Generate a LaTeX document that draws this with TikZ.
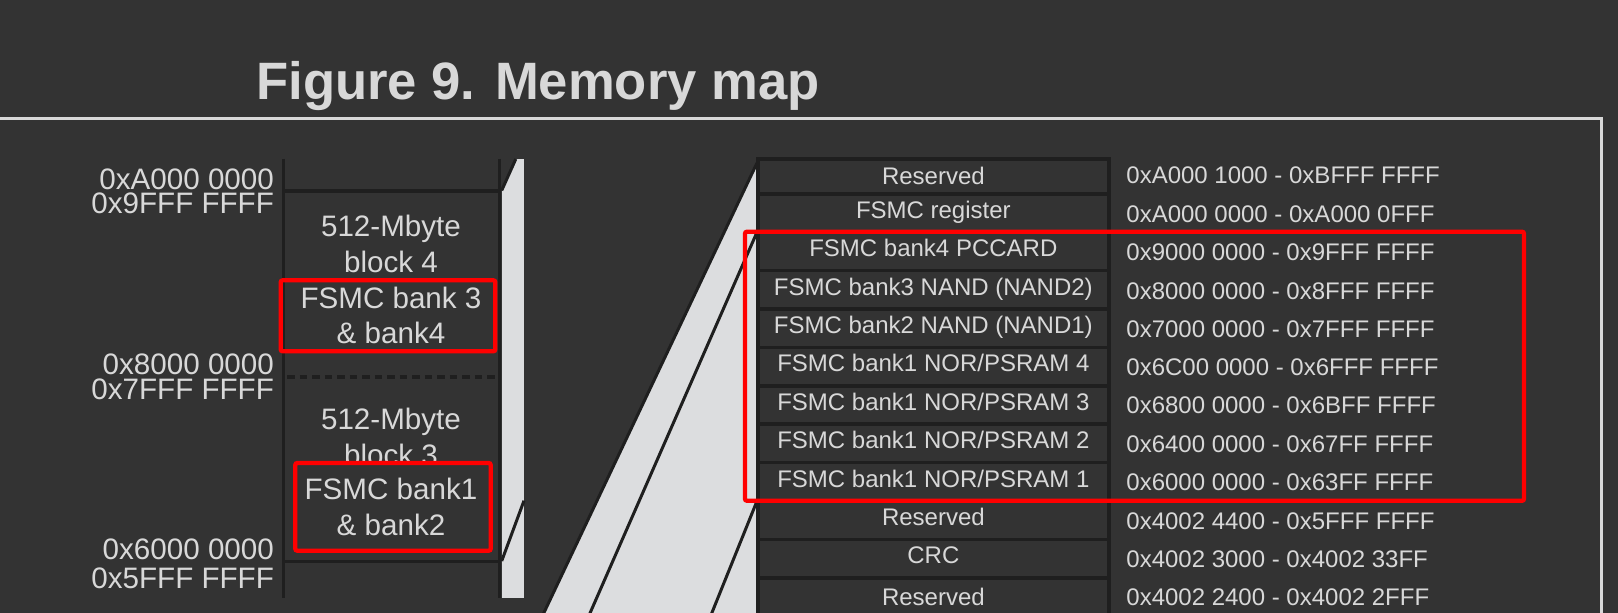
\documentclass[tikz,border=0pt]{standalone}
\usepackage{fontspec}
\setmainfont{Liberation Sans}
\definecolor{bg}{HTML}{333333}
\definecolor{fg}{HTML}{D8D8D8}
\definecolor{lite}{HTML}{DCDDDF}
\definecolor{ink}{HTML}{1F1F1F}
\definecolor{framecol}{HTML}{D8D8D8}
\definecolor{hl}{HTML}{FF0000}
\begin{document}
\begin{tikzpicture}[x=0.5pt,y=-0.5pt,
  cell/.style={draw=ink, line width=1.85pt, fill=bg, text=fg,
    font=\fontsize{12}{14}\selectfont, minimum width=175.35pt,
    minimum height=19.2pt, inner sep=0pt, outer sep=0pt,
    text height=8.6pt, text depth=3.3pt, anchor=north},
  addr/.style={anchor=base west, inner sep=0pt, text=fg, font=\fontsize{12}{14}\selectfont},
  coltext/.style={anchor=base, inner sep=0pt, text=fg, font=\fontsize{14.8}{17}\selectfont},
  lbl/.style={anchor=base east, inner sep=0pt, text=fg, font=\fontsize{14.8}{17}\selectfont},
  titlestyle/.style={anchor=base west, inner sep=0pt, text=fg, font=\fontsize{26.3}{30}\selectfont\bfseries},
  redbox/.style={draw=hl, line width=2.15pt, rounded corners=1pt, inner sep=0pt, outer sep=0pt},
  inkline/.style={draw=ink, line width=1.65pt},
  frameline/.style={draw=framecol, line width=1.35pt}
]
\useasboundingbox[fill=bg] (0,0) rectangle (1618,613);

% title and frame
\node[titlestyle] (title) at (256,99.3) {Figure 9. Memory map};
\draw[frameline] (-5,118.3) -- (1601.7,118.3) -- (1601.7,620);

% funnel
\coordinate (fa1) at (757,163);
\coordinate (fa2) at (540.5,620);
\coordinate (fb1) at (757,232.2);
\coordinate (fb2) at (587,620);
\coordinate (fc1) at (757,501);
\coordinate (fc2) at (709,620);
\fill[lite] (fa1) -- (fa2) -- (758,620) -- (758,163) -- cycle;
\draw[inkline, line width=1.5pt] (fa1) -- (fa2);
\draw[inkline, line width=1.5pt] (fb1) -- (fb2);
\draw[inkline, line width=1.5pt] (fc1) -- (fc2);

% left strip
\fill[lite] (501.7,159) rectangle (524,598.3);
\fill[bg] (501.7,159) -- (515.8,159) -- (501.7,190.5) -- cycle;
\coordinate (sa1) at (501.7,190.5);
\coordinate (sa2) at (515.8,159);
\coordinate (sb1) at (501.7,561);
\coordinate (sb2) at (524,500.7);
\draw[inkline, line width=1.5pt] (sa1) -- (sa2);
\draw[inkline, line width=1.5pt] (sb1) -- (sb2);

% left column
\draw[inkline] (283.3,159) -- (283.3,598.3);
\draw[inkline] (499.8,159) -- (499.8,598.3);
\draw[inkline] (283.3,191) -- (499.8,191);
\draw[inkline, dash pattern=on 3.75pt off 2.5pt, dash phase=-2pt] (283.3,377) -- (499.8,377);
\draw[inkline] (283.3,561.7) -- (499.8,561.7);

% left labels
\node[lbl] (l1) at (274.3,189.3) {0xA000 0000};
\node[lbl] (l2) at (274.3,213.3) {0x9FFF FFFF};
\node[lbl] (l3) at (274.3,374.8) {0x8000 0000};
\node[lbl] (l4) at (274.3,399.3) {0x7FFF FFFF};
\node[lbl] (l5) at (274.3,560) {0x6000 0000};
\node[lbl] (l6) at (274.3,589) {0x5FFF FFFF};

% block 4
\node[coltext] (b4a) at (391,236.7) {512-Mbyte};
\node[coltext] (b4b) at (391,272.7) {block 4};
\node[coltext] (b4c) at (391,308.3) {FSMC bank 3};
\node[coltext] (b4d) at (391,344) {\& bank4};
\node[redbox, minimum width=107.3pt, minimum height=35.5pt] (rb1) at (388,315.8) {};

% block 3
\node[coltext] (b3a) at (391,429.3) {512-Mbyte};
\node[coltext] (b3b) at (391,465.3) {block 3};
\node[redbox, fill=bg, minimum width=97.7pt, minimum height=43.85pt] (rb2) at (393,506.85) {};
\node[coltext] (b3c) at (391,500) {FSMC bank1};
\node[coltext] (b3d) at (391,536) {\& bank2};

% table
\node[cell, minimum height=17.35pt, text depth=1.2pt] (r1) at (933.35,159.3) {Reserved};
\node[cell] (r2) at (933.35,194) {FSMC register};
\node[cell] (r3) at (933.35,232.2) {FSMC bank4 PCCARD};
\node[cell] (r4) at (933.35,270.6) {FSMC bank3 NAND (NAND2)};
\node[cell] (r5) at (933.35,309) {FSMC bank2 NAND (NAND1)};
\node[cell] (r6) at (933.35,347.4) {FSMC bank1 NOR/PSRAM 4};
\node[cell] (r7) at (933.35,385.8) {FSMC bank1 NOR/PSRAM 3};
\node[cell] (r8) at (933.35,424.2) {FSMC bank1 NOR/PSRAM 2};
\node[cell] (r9) at (933.35,462.6) {FSMC bank1 NOR/PSRAM 1};
\node[cell] (r10) at (933.35,501) {Reserved};
\node[cell] (r11) at (933.35,539.4) {CRC};
\node[cell, minimum height=22.5pt] (r12) at (933.35,577.8) {Reserved};

% addresses
\node[addr] (a1) at (1126,184) {0xA000 1000 - 0xBFFF FFFF};
\node[addr] (a2) at (1126,222.7) {0xA000 0000 - 0xA000 0FFF};
\node[addr] (a3) at (1126,260.7) {0x9000 0000 - 0x9FFF FFFF};
\node[addr] (a4) at (1126,299.3) {0x8000 0000 - 0x8FFF FFFF};
\node[addr] (a5) at (1126,337.3) {0x7000 0000 - 0x7FFF FFFF};
\node[addr] (a6) at (1126,375.3) {0x6C00 0000 - 0x6FFF FFFF};
\node[addr] (a7) at (1126,414) {0x6800 0000 - 0x6BFF FFFF};
\node[addr] (a8) at (1126,452.7) {0x6400 0000 - 0x67FF FFFF};
\node[addr] (a9) at (1126,490.7) {0x6000 0000 - 0x63FF FFFF};
\node[addr] (a10) at (1126,530) {0x4002 4400 - 0x5FFF FFFF};
\node[addr] (a11) at (1126,567.3) {0x4002 3000 - 0x4002 33FF};
\node[addr] (a12) at (1126,606) {0x4002 2400 - 0x4002 2FFF};

% right red box
\node[redbox, minimum width=389.5pt, minimum height=134.55pt] (rb3) at (1134.5,366.25) {};
\end{tikzpicture}
\end{document}
